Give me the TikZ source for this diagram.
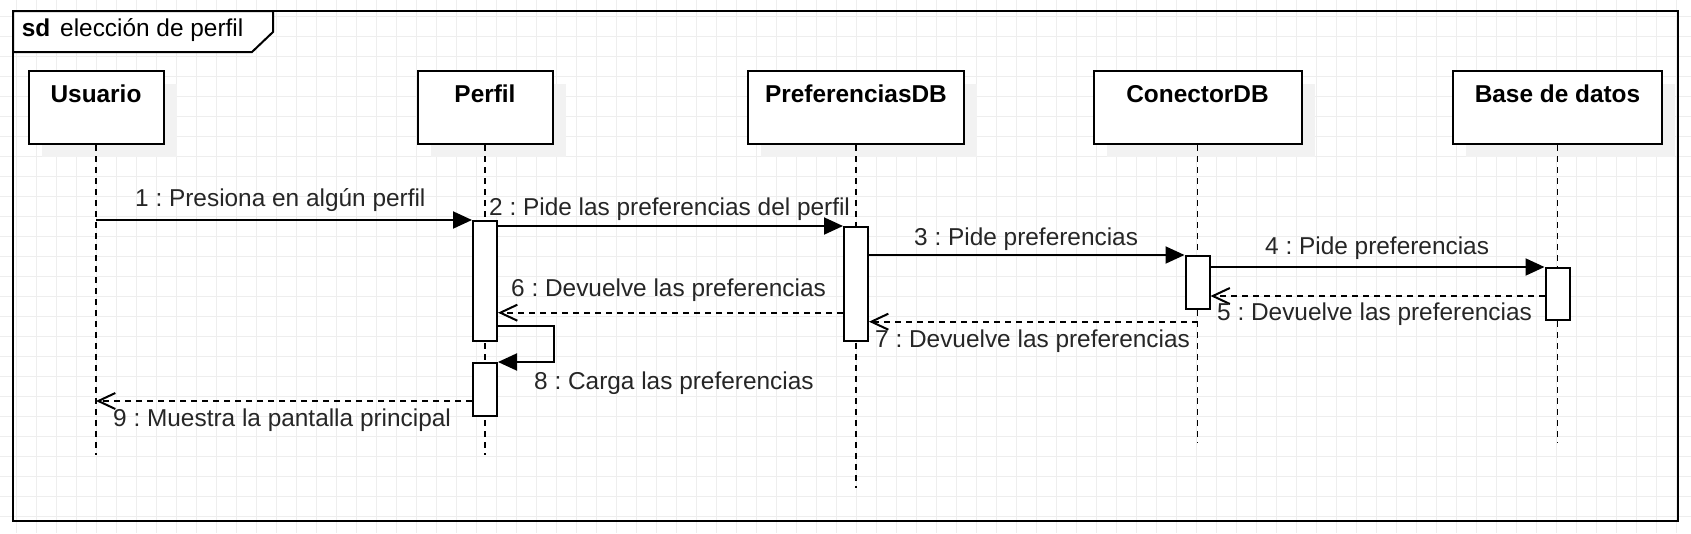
\documentclass[tikz,border=0pt]{standalone}
\usepackage{fontspec}
\setmainfont{Liberation Sans}
\usetikzlibrary{arrows.meta,shadows}
\definecolor{gridc}{HTML}{EEEEEE}
\definecolor{shadowc}{HTML}{F2F2F2}
\definecolor{msgc}{HTML}{262626}
\frenchspacing
\begin{document}
\begin{tikzpicture}[x=1pt,y=-1pt,
  txt/.style={font=\fontsize{24.4pt}{28pt}\selectfont, inner sep=0pt, anchor=base west, text=msgc},
  headtxt/.style={font=\fontsize{24.4pt}{28pt}\selectfont\bfseries, inner sep=0pt, anchor=base, text=black},
  headbox/.style={draw=black, line width=2pt, fill=white, minimum height=73pt, inner sep=0pt,
    drop shadow={shadow xshift=13pt, shadow yshift=-13pt, fill=shadowc, draw=none, opacity=1}},
  act/.style={draw=black, line width=2pt, fill=white, minimum width=24pt, inner sep=0pt},
  lifeln/.style={line width=1.8pt, dash pattern=on 5.5pt off 5.5pt},
  callmsg/.style={line width=2pt, -{Triangle[length=19pt,width=17pt]}},
  retmsg/.style={line width=2pt, dash pattern=on 6pt off 5pt, -{Straight Barb[length=17pt,width=16pt]}},
  gridln/.style={draw=gridc, line width=1pt}]

\useasboundingbox (0,0) rectangle (1691,533);
\fill[white] (0,0) rectangle (1691,533);
% grid
\foreach \i in {0,...,83} {\draw[gridln] ({16.7+20*\i},0) -- ({16.7+20*\i},533);}
\foreach \j in {0,...,25} {\draw[gridln] (0,{16+20*\j}) -- (1691,{16+20*\j});}

% frame
\draw[line width=2pt] (13,11) rectangle (1678,521);
\draw[line width=2pt, fill=white] (13,11) -- (273,11) -- (273,32) -- (252,52) -- (13,52) -- cycle;
\node[txt, text=black, font=\fontsize{24.4pt}{28pt}\selectfont\bfseries] (sdT) at (21.7,36.7) {sd};
\node[txt, text=black] (titleT) at (60,36.7) {elección de perfil};

% head boxes
\node[headbox, minimum width=135pt] (u) at (96,107.5) {};
\node[headbox, minimum width=135pt] (p) at (485,107.5) {};
\node[headbox, minimum width=216pt] (d) at (856,107.5) {};
\node[headbox, minimum width=208pt] (c) at (1197.5,107.5) {};
\node[headbox, minimum width=209pt] (b) at (1557.5,107.5) {};
\node[headtxt] (uT) at (96,102) {Usuario};
\node[headtxt] (pT) at (485,102) {Perfil};
\node[headtxt] (dT) at (856,102) {PreferenciasDB};
\node[headtxt] (cT) at (1197.5,102) {ConectorDB};
\node[headtxt] (bT) at (1557.5,102) {Base de datos};

% lifeline ends
\coordinate (uEnd) at (96,455);
\coordinate (pEnd) at (485,455);
\coordinate (dEnd) at (856,488);
\coordinate (cEnd) at (1197.5,443);
\coordinate (bEnd) at (1557.5,443);
\draw[lifeln] (u.south) -- (uEnd);
\draw[lifeln] (p.south) -- (pEnd);
\draw[lifeln] (d.south) -- (dEnd);
\draw[lifeln] (c.south) -- (cEnd);
\draw[lifeln] (b.south) -- (bEnd);

% activations
\node[act, minimum height=120pt] (pA1) at (485,281) {};
\node[act, minimum height=53pt] (pA2) at (485,389.5) {};
\node[act, minimum height=114pt] (dA) at (856,284) {};
\node[act, minimum height=53pt] (cA) at (1197.5,282.5) {};
\node[act, minimum height=52pt] (bA) at (1557.5,294) {};

% messages
\draw[callmsg] (uEnd |- pA1.north west) -- (pA1.north west);
\draw[callmsg] (pA1.east |- dA.north west) -- (dA.north west);
\draw[callmsg] (dA.east |- cA.north west) -- (cA.north west);
\draw[callmsg] (cA.east |- bA.north west) -- (bA.north west);
\draw[retmsg] (bA.west |- 0,296) -- (cA.east |- 0,296);
\draw[retmsg] (dA.west |- 0,312.7) -- (pA1.east |- 0,312.7);
\draw[retmsg] (cEnd |- 0,321.7) -- (dA.east |- 0,321.7);
\draw[callmsg] (pA1.east |- 0,325.7) -- ++(56,0) |- (pA2.north east);
\draw[retmsg] (pA2.west |- 0,401) -- (uEnd |- 0,401);

% labels
\node[txt] (l1) at (135,206.7) {1 : Presiona en algún perfil};
\node[txt] (l2) at (489,215) {2 : Pide las preferencias del perfil};
\node[txt] (l3) at (914,245) {3 : Pide preferencias};
\node[txt] (l4) at (1265,254) {4 : Pide preferencias};
\node[txt] (l5) at (1217,320.7) {5 : Devuelve las preferencias};
\node[txt] (l6) at (511,296.7) {6 : Devuelve las preferencias};
\node[txt] (l7) at (875,347) {7 : Devuelve las preferencias};
\node[txt] (l8) at (534,389) {8 : Carga las preferencias};
\node[txt] (l9) at (113,426) {9 : Muestra la pantalla principal};
\end{tikzpicture}
\end{document}
